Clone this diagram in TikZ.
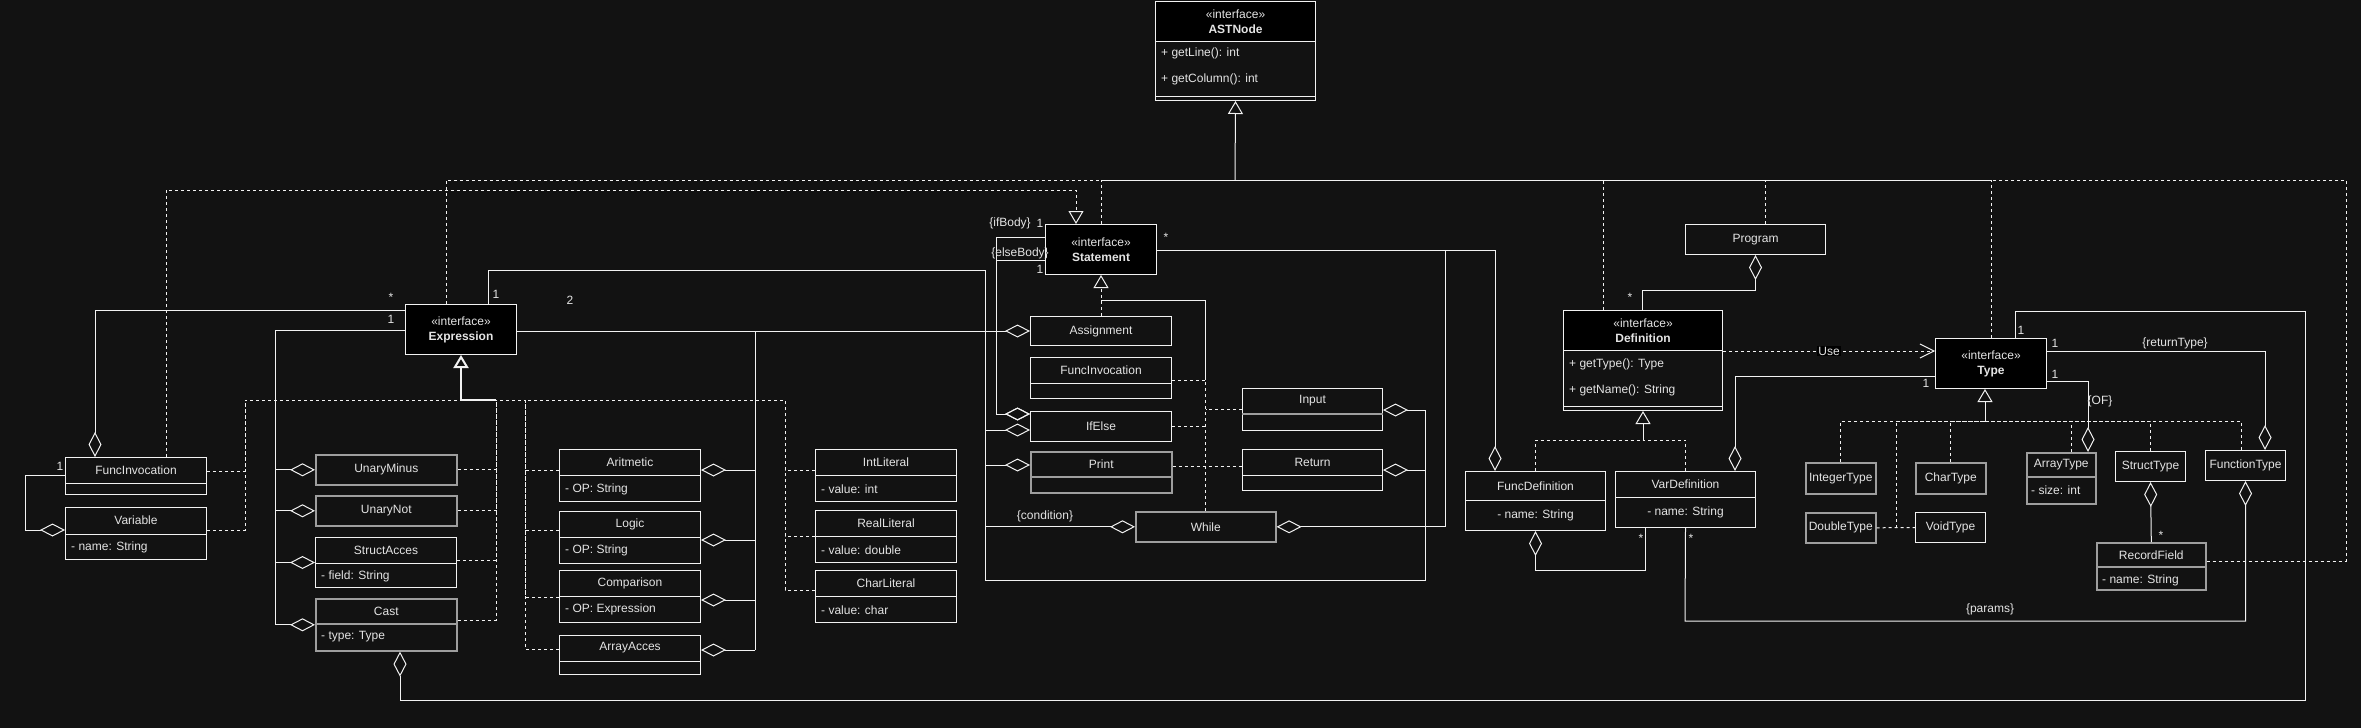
\documentclass[tikz,border=0pt]{standalone}
\usepackage{fontspec}
\setmainfont{Liberation Sans}
\usetikzlibrary{positioning,arrows.meta}
\definecolor{canvas}{HTML}{121212}
\definecolor{ink}{HTML}{E4E4E4}
\definecolor{wire}{HTML}{F2F2F2}
\definecolor{dimwire}{HTML}{9E9E9E}
\begin{document}
\begin{tikzpicture}[x=1pt,y=-1pt,
  every node/.style={inner sep=0pt, text=ink, font=\fontsize{12}{15}\selectfont},
  cls/.style={draw=wire, fill=canvas, anchor=north west, line width=1pt},
  dimbox/.style={draw=dimwire, line width=1.6pt},
  iface/.style={cls, fill=black, align=center},
  attr/.style={anchor=west},
  splitline/.style={draw=wire, line width=1pt},
  wireline/.style={draw=wire, line width=1pt},
  realize/.style={draw=wire, line width=1pt, dash pattern=on 3pt off 3pt},
  genarrow/.style={-{Triangle[open,length=13pt,width=15pt]}},
  agg/.style={wireline, {Diamond[open,length=25pt,width=13pt]}-}
]
\fill[canvas] (0,0) rectangle (2361,728);
\useasboundingbox (0,0) rectangle (2361,728);

% interfaces
\node[cls, minimum width=160, minimum height=99] (ast) at (1155,1) {};
\node[iface, minimum width=160, minimum height=40] (astHead) at (1155,1) {«interface»\\\textbf{ASTNode}};
\node[attr] (astA1) at (1161,53) {+ getLine(): int};
\node[attr] (astA2) at (1161,79) {+ getColumn(): int};
\draw[splitline] (ast.west |- 0,96) -- (ast.east |- 0,96);
\node[iface, minimum width=111, minimum height=50] (expr) at (405,304) {«interface»\\\textbf{Expression}};
\node[iface, minimum width=111, minimum height=50] (stmt) at (1045,224) {«interface»\\\textbf{Statement}};
\node[cls, minimum width=159, minimum height=100] (def) at (1563,310) {};
\node[iface, minimum width=159, minimum height=40] (defHead) at (1563,310) {«interface»\\\textbf{Definition}};
\node[attr] (defA1) at (1569,364) {+ getType(): Type};
\node[attr] (defA2) at (1569,390) {+ getName(): String};
\draw[splitline] (def.west |- 0,406) -- (def.east |- 0,406);
\node[iface, minimum width=111, minimum height=50] (type) at (1935,338) {«interface»\\\textbf{Type}};

% expressions
\node[cls, minimum width=141, minimum height=37] (fiE) at (65,457) {};
\node (fiEName) at ([yshift=-13pt]fiE.north) {FuncInvocation};
\draw[splitline] ([yshift=-26pt]fiE.north west) -- ([yshift=-26pt]fiE.north east);
\node[cls, minimum width=141, minimum height=52] (var) at (65,507) {};
\node (varName) at ([yshift=-13pt]var.north) {Variable};
\draw[splitline] ([yshift=-27pt]var.north west) -- ([yshift=-27pt]var.north east);
\node[attr] (varA) at ([xshift=6pt,yshift=-40pt]var.north west) {- name: String};
\node[cls, dimbox, minimum width=141, minimum height=30] (um) at (315,454) {UnaryMinus};
\node[cls, dimbox, minimum width=141, minimum height=30] (un) at (315,495) {UnaryNot};
\node[cls, minimum width=141, minimum height=50] (sa) at (315,537) {};
\node (saName) at ([yshift=-13pt]sa.north) {StructAcces};
\draw[splitline] ([yshift=-26pt]sa.north west) -- ([yshift=-26pt]sa.north east);
\node[attr] (saA) at ([xshift=6pt,yshift=-39pt]sa.north west) {- field: String};
\node[cls, dimbox, minimum width=141, minimum height=52] (cast) at (315,598) {};
\node (castName) at ([yshift=-13pt]cast.north) {Cast};
\draw[splitline, draw=dimwire, line width=1.6pt] ([yshift=-26pt]cast.north west) -- ([yshift=-26pt]cast.north east);
\node[attr] (castA) at ([xshift=6pt,yshift=-39pt]cast.north west) {- type: Type};
\node[cls, minimum width=141, minimum height=52] (ar) at (559,449) {};
\node (arName) at ([yshift=-13pt]ar.north) {Aritmetic};
\draw[splitline] ([yshift=-26pt]ar.north west) -- ([yshift=-26pt]ar.north east);
\node[attr] (arA) at ([xshift=6pt,yshift=-40pt]ar.north west) {- OP: String};
\node[cls, minimum width=141, minimum height=52] (lo) at (559,511) {};
\node (loName) at ([yshift=-13pt]lo.north) {Logic};
\draw[splitline] ([yshift=-26pt]lo.north west) -- ([yshift=-26pt]lo.north east);
\node[attr] (loA) at ([xshift=6pt,yshift=-39pt]lo.north west) {- OP: String};
\node[cls, minimum width=141, minimum height=52] (cmp) at (559,570) {};
\node (cmpName) at ([yshift=-13pt]cmp.north) {Comparison};
\draw[splitline] ([yshift=-26pt]cmp.north west) -- ([yshift=-26pt]cmp.north east);
\node[attr] (cmpA) at ([xshift=6pt,yshift=-39pt]cmp.north west) {- OP: Expression};
\node[cls, minimum width=141, minimum height=39] (aa) at (559,635) {};
\node (aaName) at ([yshift=-13pt]aa.north) {ArrayAcces};
\draw[splitline] ([yshift=-26pt]aa.north west) -- ([yshift=-26pt]aa.north east);
\node[cls, minimum width=141, minimum height=52] (il) at (815,449) {};
\node (ilName) at ([yshift=-13pt]il.north) {IntLiteral};
\draw[splitline] ([yshift=-26pt]il.north west) -- ([yshift=-26pt]il.north east);
\node[attr] (ilA) at ([xshift=6pt,yshift=-40pt]il.north west) {- value: int};
\node[cls, minimum width=141, minimum height=52] (rl) at (815,510) {};
\node (rlName) at ([yshift=-13pt]rl.north) {RealLiteral};
\draw[splitline] ([yshift=-26pt]rl.north west) -- ([yshift=-26pt]rl.north east);
\node[attr] (rlA) at ([xshift=6pt,yshift=-40pt]rl.north west) {- value: double};
\node[cls, minimum width=141, minimum height=52] (cl) at (815,570) {};
\node (clName) at ([yshift=-13pt]cl.north) {CharLiteral};
\draw[splitline] ([yshift=-26pt]cl.north west) -- ([yshift=-26pt]cl.north east);
\node[attr] (clA) at ([xshift=6pt,yshift=-40pt]cl.north west) {- value: char};

% statements
\node[cls, minimum width=141, minimum height=29] (asg) at (1030,316) {Assignment};
\node[cls, minimum width=141, minimum height=41] (fiS) at (1030,357) {};
\node (fiSName) at ([yshift=-13pt]fiS.north) {FuncInvocation};
\draw[splitline] ([yshift=-26pt]fiS.north west) -- ([yshift=-26pt]fiS.north east);
\node[cls, minimum width=141, minimum height=30] (ife) at (1030,411) {IfElse};
\node[cls, dimbox, minimum width=141, minimum height=41] (pr) at (1030,451) {};
\node (prName) at ([yshift=-13pt]pr.north) {Print};
\draw[splitline, draw=dimwire, line width=1.6pt] ([yshift=-26pt]pr.north west) -- ([yshift=-26pt]pr.north east);
\node[cls, minimum width=140, minimum height=42] (inp) at (1242,388) {};
\node (inpName) at ([yshift=-13pt]inp.north) {Input};
\draw[splitline, draw=dimwire, line width=1.6pt] ([yshift=-26pt]inp.north west) -- ([yshift=-26pt]inp.north east);
\node[cls, minimum width=140, minimum height=41] (ret) at (1242,449) {};
\node (retName) at ([yshift=-13pt]ret.north) {Return};
\draw[splitline] ([yshift=-26pt]ret.north west) -- ([yshift=-26pt]ret.north east);
\node[cls, dimbox, minimum width=140, minimum height=30] (wh) at (1135,511) {While};

% definitions
\node[cls, minimum width=140, minimum height=30] (prog) at (1685,224) {Program};
\node[cls, minimum width=140, minimum height=59] (fd) at (1465,471) {};
\node (fdName) at ([yshift=-15pt]fd.north) {FuncDefinition};
\draw[splitline] ([yshift=-29pt]fd.north west) -- ([yshift=-29pt]fd.north east);
\node (fdA) at ([yshift=-44pt]fd.north) {- name: String};
\node[cls, minimum width=140, minimum height=56] (vd) at (1615,471) {};
\node (vdName) at ([yshift=-13pt]vd.north) {VarDefinition};
\draw[splitline] ([yshift=-26pt]vd.north west) -- ([yshift=-26pt]vd.north east);
\node (vdA) at ([yshift=-41pt]vd.north) {- name: String};

% types
\node[cls, dimbox, minimum width=70, minimum height=31] (it) at (1805,462) {IntegerType};
\node[cls, dimbox, minimum width=70, minimum height=31] (ct) at (1915,462) {CharType};
\node[cls, dimbox, minimum width=70, minimum height=30] (dt) at (1805,512) {DoubleType};
\node[cls, minimum width=70, minimum height=30] (vt) at (1915,512) {VoidType};
\node[cls, dimbox, minimum width=69, minimum height=51] (at) at (2026,452) {};
\node (atName) at ([yshift=-13pt]at.north) {ArrayType};
\draw[splitline, draw=dimwire, line width=1.6pt] ([yshift=-25pt]at.north west) -- ([yshift=-25pt]at.north east);
\node[attr] (atA) at ([xshift=5pt,yshift=-38pt]at.north west) {- size: int};
\node[cls, minimum width=70, minimum height=30] (st) at (2115,451) {StructType};
\node[cls, minimum width=80, minimum height=30] (ft) at (2205,450) {FunctionType};
\node[cls, dimbox, minimum width=109, minimum height=47] (rf) at (2096,542) {};
\node (rfName) at ([yshift=-13pt]rf.north) {RecordField};
\draw[splitline, draw=dimwire, line width=1.6pt] ([yshift=-25pt]rf.north west) -- ([yshift=-25pt]rf.north east);
\node[attr] (rfA) at ([xshift=6pt,yshift=-38pt]rf.north west) {- name: String};

% realizations of ASTNode
\coordinate (astBus) at (1235,180);
\draw[realize] (expr.north -| 446,0) |- (astBus);
\draw[realize] (stmt.north) |- (astBus);
\draw[realize] (def.north -| 1603,0) |- (astBus);
\draw[realize] (prog.north -| 1765,0) |- (astBus);
\draw[realize] (type.north) |- (astBus);
\draw[realize] (rf.east |- 0,561) -| (2346,180) -- (astBus);
\draw[wireline] (astBus) -- (type.north |- astBus);
\draw[wireline, genarrow] (astBus) -- (ast.south);

% realizations of Statement
\draw[realize, genarrow] (fiE.north -| 166,0) |- (1076,190) -- (stmt.north -| 1076,0);
\draw[realize, genarrow] (asg.north) -- (stmt.south);
\draw[realize] (wh.north) |- (asg.north |- 0,300);
\draw[wireline] (asg.north |- 0,300) -| (wh.north |- 0,380);
\draw[realize] (fiS.east |- 0,380) -- (wh.north |- 0,380);
\draw[realize] (ife.east) -- (wh.north |- ife.east);
\draw[realize] (inp.west |- 0,409) -- (wh.north |- 0,409);
\draw[realize] (pr.east |- 0,466) -- (ret.west |- 0,466);

% realizations of Expression
\coordinate (exprBus) at (expr.south |- 0,400);
\draw[realize] (fiE.east |- 0,471) -| (245,400) -- (exprBus);
\draw[realize] (var.east |- 0,530) -| (245,400);
\draw[realize] (um.east) -| (496,400);
\draw[realize] (un.east) -| (496,400);
\draw[realize] (sa.east |- 0,560) -| (496,400);
\draw[realize] (cast.east |- 0,620) -| (496,400);
\draw[realize] (ar.west |- 0,470) -| (525,400) -- (exprBus);
\draw[realize] (lo.west |- 0,530) -| (525,400);
\draw[realize] (cmp.west |- 0,597) -| (525,400);
\draw[realize] (aa.west |- 0,649) -| (525,400);
\draw[realize] (il.west |- 0,470) -| (785,400) -- (525,400);
\draw[realize] (rl.west |- 0,536) -| (785,400);
\draw[realize] (cl.west |- 0,590) -| (785,400);
\draw[wireline, line width=2pt] (exprBus) -- (496,400);
\draw[wireline, line width=2pt, genarrow] (exprBus) -- (expr.south);

% realizations of Definition and Type
\coordinate (defBus) at (def.south |- 0,440);
\draw[realize] (fd.north) |- (defBus);
\draw[realize] (vd.north) |- (defBus);
\draw[wireline, genarrow] (defBus) -- (def.south);
\coordinate (typeBus) at (1985,421);
\draw[realize] (it.north) |- (typeBus);
\draw[realize] (ct.north) |- (typeBus);
\draw[realize] (dt.east) -- (vt.west);
\draw[realize] (dt.east -| 1896,0) |- (typeBus);
\draw[realize] (at.north -| 2071,0) |- (typeBus);
\draw[realize] (st.north) |- (typeBus);
\draw[realize] (ft.north -| 2241,0) |- (typeBus);
\draw[wireline, genarrow] (typeBus) -- (typeBus |- type.south);

% dependency
\draw[realize, -{Straight Barb[length=14pt,width=14pt]}] (def.east |- 0,351) -- (type.west |- 0,351)
  node[pos=0.5, fill=black, inner sep=1pt] (useLbl) {Use};

% aggregations
\draw[agg] (fiE.north -| 95,0) |- (expr.west |- 0,310);
\draw[agg] (var.west |- 0,530) -| (25,475) -- (fiE.west |- 0,475);
\draw[wireline] (expr.west |- 0,330) -| (275,624);
\draw[agg] (um.west) -- (um.west -| 275,0);
\draw[agg] (un.west) -- (un.west -| 275,0);
\draw[agg] (sa.west) -- (sa.west -| 275,0);
\draw[agg] (cast.west) -- (cast.west -| 275,0);
\draw[agg] (cast.south -| 400,0) |- (2305,700) |- (2015,311) -- (type.north -| 2015,0);
\draw[wireline] (expr.north -| 488,0) |- (985,270) |- (1425,580) -- (1425,410);
\draw[agg] (ife.west |- 0,430) -- (985,430);
\draw[agg] (pr.west |- 0,465) -- (985,465);
\draw[agg] (wh.west) -- (wh.west -| 985,0);
\draw[agg] (inp.east |- 0,410) -- (1425,410);
\draw[agg] (ret.east |- 0,470) -- (1425,470);
\draw[agg] (asg.west) -- (expr.east |- asg.west);
\draw[wireline] (asg.west -| 755,0) -- (755,650);
\draw[agg] (ar.east |- 0,470) -- (755,470);
\draw[agg] (lo.east |- 0,540) -- (755,540);
\draw[agg] (cmp.east |- 0,600) -- (755,600);
\draw[agg] (aa.east |- 0,650) -- (755,650);
\draw[agg] (ife.west |- 0,414) -| (996,237) -- (stmt.west |- 0,237);
\draw[agg] (ife.west |- 0,414) -| (996,260) -- (stmt.west |- 0,260);
\draw[agg] (wh.east) -| (1445,250) -- (stmt.east |- 0,250);
\draw[agg] (fd.north -| 1495,0) |- (stmt.east |- 0,250);
\draw[agg] (prog.south) |- (1642,290) -- (def.north -| 1642,0);
\draw[agg] (fd.south) |- (1645,570) -- (vd.south -| 1645,0);
\draw[agg] (vd.north -| 1735,0) |- (type.west |- 0,376);
\draw[agg] (ft.south) |- (1685,621) -- (vd.south);
\draw[agg] (ft.north -| 2265,0) |- (type.east |- 0,351);
\draw[agg] (at.north -| 2088,0) |- (type.east |- 0,381);
\draw[agg] (st.south) -- (rf.north);

% multiplicities and roles
\node (mFiStar) at (391,297) {*};
\node (mFiOne) at (391,319) {1};
\node (mTopOne) at (496,294) {1};
\node (mTwo) at (570,300) {2};
\node (mVarOne) at (60,466) {1};
\node (rIfBody) at (1010,223) {\{ifBody\}};
\node (mIfOne) at (1040,223) {1};
\node (rElseBody) at (1020,253) {\{elseBody\}};
\node (mElseOne) at (1040,269) {1};
\node (mStmtStar) at (1166,237) {*};
\node (rCond) at (1045,516) {\{condition\}};
\node (mDefStar) at (1630,297) {*};
\node (mFdStar) at (1641,538) {*};
\node (mVdStar) at (1691,538) {*};
\node (mVdOne) at (1926,383) {1};
\node (mCastOne) at (2021,330) {1};
\node (mRetOne) at (2055,343) {1};
\node (rRetType) at (2175,343) {\{returnType\}};
\node (mOfOne) at (2055,374) {1};
\node (rOf) at (2100,401) {\{OF\}};
\node (mRfStar) at (2161,535) {*};
\node (rParams) at (1990,609) {\{params\}};
\end{tikzpicture}
\end{document}
